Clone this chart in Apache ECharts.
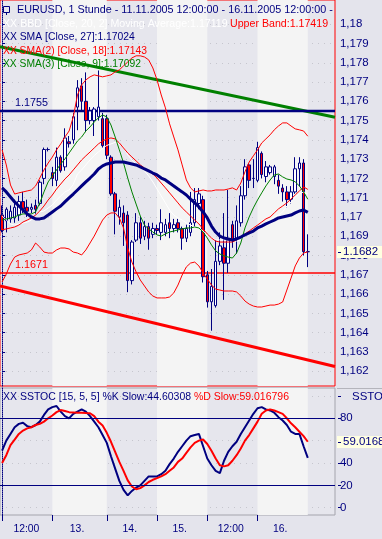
<!DOCTYPE html>
<html><head><meta charset="utf-8">
<script src="https://cdn.jsdelivr.net/npm/echarts@6/dist/echarts.min.js"></script>
<style>html,body{margin:0;padding:0;background:#e4e4ec}#c{width:382px;height:539px}</style>
</head><body><div id="c"></div>
<script>
// ---------- DATA ----------
const NUM_SLOTS = 80;
const categories = Array.from({length: NUM_SLOTS}, (_, i) => 'h' + i);

const open  = [1.1701,1.1698,1.1699,1.16995,1.1701,1.1708,1.1705,1.1704,1.1706,1.1707,
               1.1720,1.1735,1.1723,1.1719,1.1731,1.1726,1.1739,1.1740,1.1757,1.1768,
               1.1760,1.1750,1.1750,1.1752,1.1751,1.1751,1.1731,1.1712,1.1700,1.1702,
               1.1701,1.1667,1.1688,1.1697,1.1690,1.1695,1.1691,1.1694,1.1692,1.1692,
               1.1697,1.1694,1.1697,1.1694,1.1689,1.1692,1.1697,1.1707,1.1709,1.1670,
               1.1656,1.1654,1.1677,1.1684,1.1676,1.1696,1.1689,1.1697,1.1711,1.1727,
               1.1720,1.1719,1.1733,1.1721,1.1723,1.1721,1.1719,1.1715,1.1713,1.1709,
               1.1713,1.1725,1.1728,1.1682];
const close = [1.1693,1.1704,1.1703,1.1705,1.1708,1.1704,1.1703,1.1705,1.1704,1.1718,
               1.1735,1.1735,1.1720,1.1731,1.1724,1.1741,1.1738,1.1752,1.1767,1.1760,
               1.1750,1.1755,1.1756,1.1757,1.1737,1.1732,1.1712,1.1703,1.1705,1.1697,
               1.1667,1.1687,1.1697,1.1689,1.1695,1.1689,1.1694,1.1693,1.1697,1.1696,
               1.1694,1.1696,1.1694,1.1689,1.1694,1.1697,1.1709,1.1712,1.1669,1.1656,
               1.1664,1.1677,1.1685,1.1676,1.1688,1.1688,1.1698,1.1711,1.1726,1.1719,
               1.1720,1.1736,1.1722,1.1726,1.1726,1.1726,1.1716,1.1713,1.1709,1.1713,
               1.1725,1.1728,1.1682,1.1682];
const low   = [1.1692,1.1692,1.1697,1.1697,1.1698,1.1702,1.1700,1.1702,1.1701,1.1706,
               1.1717,1.1734,1.1716,1.1716,1.1723,1.1724,1.1736,1.1738,1.1745,1.1755,
               1.1744,1.1748,1.1742,1.1750,1.1736,1.1730,1.1711,1.1691,1.1696,1.1685,
               1.1661,1.1665,1.1687,1.1686,1.1688,1.1683,1.1689,1.1691,1.1688,1.1690,
               1.1689,1.1692,1.1692,1.1683,1.1687,1.1690,1.1695,1.1704,1.1666,1.1653,
               1.1641,1.1653,1.1675,1.1657,1.1671,1.1684,1.1681,1.1695,1.1709,1.1715,
               1.1715,1.1718,1.1720,1.1718,1.1722,1.1717,1.1712,1.1708,1.1705,1.1707,
               1.1712,1.1716,1.1680,1.1674];
const high  = [1.1706,1.1705,1.1706,1.1709,1.1711,1.1713,1.1709,1.1707,1.1709,1.1719,
               1.1736,1.1736,1.1726,1.1736,1.1732,1.1746,1.1742,1.1754,1.1771,1.1772,
               1.1775,1.1757,1.1757,1.1776,1.1754,1.1753,1.1732,1.1713,1.1709,1.1706,
               1.1703,1.1688,1.1702,1.1700,1.1698,1.1697,1.1697,1.1696,1.1704,1.1699,
               1.1702,1.1699,1.1699,1.1695,1.1696,1.1713,1.1715,1.1715,1.1711,1.1672,
               1.1673,1.1688,1.1692,1.1702,1.1714,1.1698,1.1706,1.1716,1.1730,1.1728,
               1.1730,1.1739,1.1734,1.1729,1.1727,1.1727,1.1722,1.1717,1.1716,1.1716,
               1.1731,1.1731,1.1730,1.1691];

const sma27 = [1.17151,1.17130,1.17104,1.17078,1.17057,1.17036,1.17016,1.17000,1.16990,1.16990,
               1.16995,1.17010,1.17026,1.17042,1.17057,1.17078,1.17099,1.17119,1.17140,1.17161,
               1.17182,1.17202,1.17223,1.17249,1.17265,1.17275,1.17280,1.17285,1.17285,1.17285,
               1.17280,1.17275,1.17270,1.17260,1.17249,1.17239,1.17228,1.17218,1.17202,1.17192,
               1.17176,1.17161,1.17145,1.17130,1.17114,1.17093,1.17073,1.17052,1.17026,1.16995,
               1.16953,1.16922,1.16901,1.16891,1.16886,1.16881,1.16886,1.16896,1.16907,1.16917,
               1.16927,1.16943,1.16953,1.16964,1.16974,1.16984,1.16995,1.17000,1.17005,1.17010,
               1.17021,1.17031,1.17036,1.17024];
const sma18 = [1.16933,1.16938,1.16943,1.16948,1.16958,1.16974,1.16984,1.16995,1.17010,1.17031,
               1.17057,1.17088,1.17114,1.17145,1.17171,1.17197,1.17218,1.17244,1.17270,1.17296,
               1.17317,1.17337,1.17358,1.17379,1.17394,1.17405,1.17410,1.17405,1.17384,1.17358,
               1.17332,1.17311,1.17291,1.17270,1.17254,1.17239,1.17223,1.17202,1.17176,1.17151,
               1.17125,1.17099,1.17073,1.17047,1.17026,1.17005,1.16984,1.16964,1.16938,1.16912,
               1.16891,1.16875,1.16870,1.16870,1.16870,1.16870,1.16881,1.16896,1.16912,1.16927,
               1.16943,1.16958,1.16974,1.16990,1.17000,1.17021,1.17042,1.17057,1.17073,1.17093,
               1.17114,1.17135,1.17156,1.17143];
const sma9  = [1.16984,1.16990,1.16995,1.17000,1.17010,1.17016,1.17016,1.17016,1.17026,1.17073,
               1.17130,1.17182,1.17213,1.17244,1.17275,1.17301,1.17332,1.17363,1.17394,1.17415,
               1.17446,1.17467,1.17493,1.17514,1.17529,1.17519,1.17477,1.17415,1.17348,1.17280,
               1.17202,1.17130,1.17067,1.17005,1.16958,1.16938,1.16922,1.16907,1.16901,1.16912,
               1.16922,1.16927,1.16933,1.16938,1.16943,1.16943,1.16948,1.16943,1.16922,1.16891,
               1.16855,1.16824,1.16808,1.16798,1.16792,1.16787,1.16813,1.16865,1.16943,1.17000,
               1.17047,1.17088,1.17125,1.17161,1.17192,1.17218,1.17223,1.17208,1.17197,1.17192,
               1.17182,1.17161,1.17130,1.17092];
const bbUpper = [1.17348,1.17270,1.17166,1.17119,1.17125,1.17130,1.17135,1.17140,1.17161,1.17202,
               1.17244,1.17280,1.17311,1.17348,1.17379,1.17415,1.17446,1.17519,1.17633,1.17685,
               1.17711,1.17727,1.17737,1.17732,1.17727,1.17732,1.17737,1.17753,1.17763,1.17784,
               1.17804,1.17825,1.17836,1.17836,1.17830,1.17815,1.17773,1.17711,1.17633,1.17566,
               1.17483,1.17415,1.17348,1.17270,1.17192,1.17151,1.17130,1.17135,1.17140,1.17135,
               1.17135,1.17140,1.17140,1.17140,1.17145,1.17151,1.17140,1.17176,1.17234,1.17285,
               1.17317,1.17348,1.17384,1.17405,1.17426,1.17452,1.17472,1.17488,1.17488,1.17472,
               1.17457,1.17452,1.17446,1.17419];
const bbMiddle = [1.17005,1.16984,1.16964,1.16958,1.16964,1.16969,1.16974,1.16984,1.17016,1.17026,
               1.17031,1.17047,1.17062,1.17088,1.17109,1.17130,1.17140,1.17169,1.17223,1.17244,
               1.17270,1.17296,1.17319,1.17337,1.17356,1.17371,1.17379,1.17387,1.17379,1.17363,
               1.17322,1.17296,1.17275,1.17254,1.17239,1.17213,1.17182,1.17145,1.17109,1.17073,
               1.17036,1.17010,1.16995,1.16984,1.16969,1.16958,1.16948,1.16943,1.16927,1.16907,
               1.16891,1.16881,1.16881,1.16881,1.16881,1.16881,1.16875,1.16881,1.16901,1.16917,
               1.16927,1.16943,1.16958,1.16974,1.16984,1.17000,1.17010,1.17026,1.17057,1.17078,
               1.17104,1.17119,1.17130,1.17119];
const bbLower = [1.16663,1.16704,1.16756,1.16792,1.16803,1.16808,1.16813,1.16829,1.16865,1.16844,
               1.16818,1.16813,1.16813,1.16829,1.16839,1.16839,1.16834,1.16818,1.16813,1.16803,
               1.16829,1.16865,1.16901,1.16943,1.16984,1.17010,1.17021,1.17021,1.16995,1.16943,
               1.16839,1.16766,1.16715,1.16673,1.16642,1.16611,1.16590,1.16580,1.16580,1.16580,
               1.16585,1.16606,1.16647,1.16699,1.16741,1.16761,1.16766,1.16746,1.16709,1.16678,
               1.16647,1.16626,1.16621,1.16616,1.16616,1.16616,1.16611,1.16590,1.16564,1.16548,
               1.16538,1.16533,1.16533,1.16538,1.16543,1.16543,1.16548,1.16559,1.16621,1.16683,
               1.16746,1.16787,1.16813,1.16819];

const stochK = [51,60,66,72,75,76,73,72,74,77, 83,88,90,91,86,82,80,84,86,88,
                86,82,77,72,65,58,46,35,24,16, 11,15,18,20,24,28,28,28,30,33,
                39,44,50,55,60,64,65,66,55,44, 38,33,31,42,50,55,59,66,72,78,
                84,89,90,88,87,85,81,78,74,68, 66,66,55,44.60308];
const stochD = [40,47,56,61,66,69,71,72,74,75, 77,80,82.5,85.5,87.4,86.5,85.5,85.3,85,85,
                84.7,84.5,82,77,73.5,67,59,50,41,33, 24.5,19,16.5,17.5,20,23,25,26.5,28,30,
                33,36,41,44,49,54,58,60,61,57, 51,44,38,37,38,42,47,53,60,65,
                71,77,84,87,88,87,85.5,84,80,75.5, 72,68,64,59.016796];

// Trend lines: [slot index, price] end points; horizontal levels
const greenTrend = [[-0.5, 1.17883], [79.5, 1.17517]];
const redTrend   = [[-0.5, 1.16642], [79.5, 1.16224]];
const levelBlue = 1.1755;
const levelRed  = 1.1671;

// x axis: tick slots and labels
const xTickSlots  = [0, 12, 25, 37, 49, 61];
const xLabelSlots = [5.8, 17.9, 30.5, 42.4, 54.6, 66.4];
const xLabelText  = ['12:00', '13.', '14.', '15.', '12:00', '16.'];
const lightBands  = [[12, 25], [37, 49], [61, 73]];

// legend texts
const titleText = 'EURUSD, 1 Stunde - 11.11.2005 12:00:00 - 16.11.2005 12:00:00 - ';
const bbdText1 = 'XX BBD [Close, 20, 2] Moving Average:1.17119 ';
const bbdText2 = 'Upper Band:1.17419 Lower Band:1.16819';
const sma27Text = 'XX SMA [Close, 27]:1.17024';
const sma18Text = 'XX SMA(2) [Close, 18]:1.17143';
const sma9Text  = 'XX SMA(3) [Close, 9]:1.17092';
const stocText1 = 'XX SSTOC [15, 5, 5] %K Slow:44.60308 ';
const stocText2 = '%D Slow:59.016796';
const lastClose = close[close.length - 1];
const lastD = stochD[stochD.length - 1];

// ---------- CHART ----------
const NAVY = '#000080', RED = '#ff0000', GREEN = '#008000';
const FAMILY = '"Liberation Sans", Arial, sans-serif';
const mctx = document.createElement('canvas').getContext('2d');
const fit = (text, target) => { mctx.font = '20px ' + FAMILY; return 20 * target / mctx.measureText(text).width; };
const fTitle = fit('EURUSD, 1 Stunde - 11.11.2005 12:00:00 - 16.11.2005 12:00:00 -', 316);
const fBbd   = fit(bbdText1.trim(), 225);
const fS27   = fit(sma27Text, 132);
const fS18   = fit(sma18Text, 144);
const fS9    = fit(sma9Text, 138);
const fStoc  = fit(stocText1 + stocText2, 286);
const fAxis  = fit('1,177', 28.7);
const fX     = fit('12:00', 26);
const fLvl   = fit('1.1755', 33);
const fnt = s => s.toFixed(2) + 'px ' + FAMILY;

const candleData = open.map((o, i) => [o, close[i], low[i], high[i]]);
const lineS = (name, data, color, width) => ({
  name, type: 'line', xAxisIndex: 1, yAxisIndex: 1, data,
  showSymbol: false, symbol: 'none', silent: true,
  lineStyle: {color, width}, z: 3
});
const segS = (data, color, width) => ({type: 'line', xAxisIndex: 2, yAxisIndex: 1, data, symbol: 'none', silent: true, lineStyle: {color, width}, z: 2});
const priceFmt = v => {
  let s = (+v).toFixed(3).replace(/0+$/, '').replace(/\.$/, '');
  return s.replace('.', ',');
};

const chart = echarts.init(document.getElementById('c'), null, {width: 382, height: 539});
const option = {
  animation: false,
  backgroundColor: '#e4e4ec',
  textStyle: {fontFamily: FAMILY},
  grid: [
    {left: -1, top: -1, width: 336, height: 387, show: true, backgroundColor: '#e6e6ed', borderColor: RED, borderWidth: 1},
    {left: 0, top: 24.2, width: 335, height: 347, show: false},
    {left: -1, top: 388, width: 336, height: 127, show: true, backgroundColor: '#e6e6ed', borderColor: '#a4a4ac', borderWidth: 1},
    {left: 0, top: 395.95, width: 335, height: 111.75, show: false}
  ],
  xAxis: [
    {type: 'value', gridIndex: 0, min: -0.5, max: 79.5, show: false},
    {type: 'category', gridIndex: 1, data: categories, show: false, boundaryGap: true},
    {type: 'value', gridIndex: 1, min: -0.5, max: 79.5, show: false},
    {type: 'value', gridIndex: 2, min: -0.5, max: 79.5, position: 'bottom',
      axisLine: {show: false},
      axisTick: {show: true, customValues: xTickSlots, length: 6, lineStyle: {color: NAVY}},
      axisLabel: {customValues: xLabelSlots, color: NAVY, fontSize: fX, fontFamily: FAMILY, margin: 9,
        formatter: v => { const k = xLabelSlots.findIndex(s => Math.abs(s - v) < 1e-6); return k >= 0 ? xLabelText[k] : ''; }},
      splitLine: {show: false}},
    {type: 'category', gridIndex: 3, data: categories, show: false, boundaryGap: true}
  ],
  yAxis: [
    {type: 'value', gridIndex: 0, min: 0, max: 1, position: 'right', offset: 3,
      axisLine: {show: true, lineStyle: {color: NAVY, type: 'dotted'}}, axisTick: {show: false}, axisLabel: {show: false}, splitLine: {show: false}},
    {type: 'value', gridIndex: 1, min: 1.162, max: 1.18, interval: 0.001, position: 'right', offset: 3,
      axisLine: {show: false},
      axisTick: {show: true, length: 3, lineStyle: {color: NAVY}},
      axisLabel: {color: NAVY, fontSize: fAxis, fontFamily: FAMILY, margin: 2, formatter: priceFmt},
      splitLine: {show: true, lineStyle: {color: '#c6c6ce', type: [1, 5]}}},
    {type: 'value', gridIndex: 2, min: 0, max: 1, position: 'right', offset: 3,
      axisLine: {show: true, lineStyle: {color: NAVY, type: 'dotted'}}, axisTick: {show: false}, axisLabel: {show: false}, splitLine: {show: false}},
    {type: 'value', gridIndex: 3, min: 0, max: 100, interval: 20, position: 'right', offset: 3,
      axisLine: {show: false},
      axisTick: {show: true, length: 3, lineStyle: {color: NAVY}},
      axisLabel: {color: NAVY, fontSize: fAxis, fontFamily: FAMILY, margin: 2, formatter: v => (v === 60 || v === 100) ? '' : String(v)},
      splitLine: {show: true, lineStyle: {color: '#c6c6ce', type: [1, 5]}}}
  ],
  series: [
    {type: 'line', xAxisIndex: 0, yAxisIndex: 0, data: [[0, 0.5]], symbol: 'none', lineStyle: {opacity: 0}, silent: true, z: 0,
      markArea: {silent: true, itemStyle: {color: '#f4f4f4'}, data: lightBands.map(b => [{xAxis: b[0]}, {xAxis: b[1]}])}},
    {type: 'line', xAxisIndex: 3, yAxisIndex: 2, data: [[0, 0.5]], symbol: 'none', lineStyle: {opacity: 0}, silent: true, z: 0,
      markArea: {silent: true, itemStyle: {color: '#f4f4f4'}, data: lightBands.map(b => [{xAxis: b[0]}, {xAxis: b[1]}])}},
    segS(greenTrend, GREEN, 3),
    segS(redTrend, RED, 3),
    segS([[-0.5, levelBlue], [79.5, levelBlue]], NAVY, 2.5),
    segS([[-0.5, levelRed], [79.5, levelRed]], RED, 1.5),
    {name: 'EURUSD', type: 'candlestick', xAxisIndex: 1, yAxisIndex: 1, data: candleData, barWidth: 3, silent: true, z: 2,
      itemStyle: {color: '#ffffff', color0: RED, borderColor: NAVY, borderColor0: NAVY, borderColorDoji: NAVY, borderWidth: 1}},
    lineS('BB Upper', bbUpper, RED, 1),
    lineS('BB Lower', bbLower, RED, 1),
    lineS('BB Middle', bbMiddle, '#ffffff', 1),
    lineS('SMA 18', sma18, RED, 1),
    lineS('SMA 9', sma9, GREEN, 1),
    lineS('SMA 27', sma27, NAVY, 3),
    {type: 'line', xAxisIndex: 4, yAxisIndex: 3, data: stochK, symbol: 'none', silent: true, lineStyle: {color: NAVY, width: 2}, z: 3,
      markLine: {silent: true, symbol: 'none', label: {show: false}, lineStyle: {color: NAVY, width: 1, type: 'solid'},
        data: [{yAxis: 80}, {yAxis: 20}]}},
    {type: 'line', xAxisIndex: 4, yAxisIndex: 3, data: stochD, symbol: 'none', silent: true, lineStyle: {color: RED, width: 2}, z: 3}
  ]
};
chart.setOption(option);

const yP = v => chart.convertToPixel({yAxisIndex: 1}, v);
const yS = v => chart.convertToPixel({yAxisIndex: 3}, v);
const txt = (x, y, text, fill, font, extra) => Object.assign({type: 'text', x, y, silent: true, z: 50,
  style: Object.assign({text, fill, font, verticalAlign: 'middle'}, extra || {})});

const yb = yP(levelBlue), yr = yP(levelRed), yc = Math.round(yP(lastClose)), yd = Math.round(yS(lastD));
chart.setOption({graphic: [
  {type: 'rect', shape: {x: 3.5, y: 6.5, width: 6, height: 6}, style: {fill: 'none', stroke: NAVY, lineWidth: 1}, z: 50, silent: true},
  {type: 'line', shape: {x1: 6.5, y1: 12.5, x2: 6.5, y2: 15}, style: {stroke: NAVY, lineWidth: 1}, z: 50, silent: true},
  txt(17, 10.5, titleText, NAVY, fnt(fTitle), {width: 318, overflow: 'truncate', ellipsis: ''}),
  txt(3, 24, bbdText1, '#ffffff', fnt(fBbd)),
  txt(230, 24, bbdText2, RED, fnt(fBbd), {width: 104, overflow: 'truncate', ellipsis: ''}),
  txt(3, 37.5, sma27Text, NAVY, fnt(fS27)),
  txt(3, 51, sma18Text, RED, fnt(fS18)),
  txt(3, 64.5, sma9Text, GREEN, fnt(fS9)),
  txt(15, yb - 8, String(levelBlue), NAVY, fnt(fLvl)),
  txt(15, yr - 8, String(levelRed), RED, fnt(fLvl)),
  txt(3, 397, '{b|' + stocText1 + '}{r|' + stocText2 + '}', NAVY, fnt(fStoc),
    {rich: {b: {fill: NAVY, font: fnt(fStoc)}, r: {fill: RED, font: fnt(fStoc)}}}),
  txt(352, 396.5, 'SSTO', NAVY, fnt(fAxis)),
  {type: 'line', shape: {x1: 337, y1: 388.5, x2: 382, y2: 388.5}, style: {stroke: '#b4b4bc', lineWidth: 1}, z: 49, silent: true},
  {type: 'rect', shape: {x: 337, y: yc - 6, width: 45, height: 12}, style: {fill: '#ffffe1'}, z: 49, silent: true},
  {type: 'line', shape: {x1: 338, y1: yc + 0.5, x2: 341, y2: yc + 0.5}, style: {stroke: NAVY, lineWidth: 1}, z: 50, silent: true},
  txt(343, yc, lastClose.toFixed(4), NAVY, fnt(fAxis)),
  {type: 'rect', shape: {x: 337, y: yd - 6, width: 45, height: 12}, style: {fill: '#ffffe1'}, z: 49, silent: true},
  {type: 'line', shape: {x1: 338, y1: yd + 0.5, x2: 341, y2: yd + 0.5}, style: {stroke: NAVY, lineWidth: 1}, z: 50, silent: true},
  txt(343, yd, lastD.toFixed(4), NAVY, fnt(fAxis))
]});
</script>
</body></html>
